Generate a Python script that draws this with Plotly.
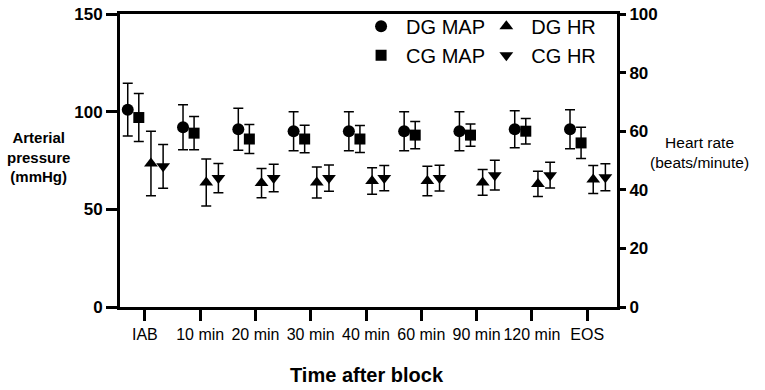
import plotly.graph_objects as go

categories = ["IAB", "10 min", "20 min", "30 min", "40 min", "60 min", "90 min", "120 min", "EOS"]
dg_map = [101, 92, 91, 90, 90, 90, 90, 91, 91]
dg_map_sd = [13.5, 11.5, 10.7, 10, 10, 10, 10, 9.5, 10]
cg_map = [97, 89, 86, 86, 86, 88, 88, 90, 84]
cg_map_sd = [12.3, 8.5, 7.4, 7, 6.9, 7, 5.7, 6.5, 8]
dg_hr = [49, 42.5, 42.3, 42.5, 43, 43, 42.5, 42, 43.5]
dg_hr_sd = [11, 8, 5, 5.3, 4.5, 5, 4.4, 4.3, 4.8]
cg_hr = [48, 44, 44, 44, 44, 44, 45, 45, 44.3]
cg_hr_sd = [7.5, 5, 4.7, 4.5, 4.3, 4.4, 5.1, 4.4, 4.6]

idx = list(range(len(categories)))
FONT = "Liberation Sans, Arial, sans-serif"

series = [
    ("DG MAP", dg_map, dg_map_sd, "circle", 12, -0.31, "y", "legend"),
    ("CG MAP", cg_map, cg_map_sd, "square", 11, -0.11, "y", "legend"),
    ("DG HR", dg_hr, dg_hr_sd, "triangle-up", 12, 0.11, "y2", "legend2"),
    ("CG HR", cg_hr, cg_hr_sd, "triangle-down", 12, 0.33, "y2", "legend2"),
]

fig = go.Figure()
for name, vals, sd, sym, size, off, yax, leg in series:
    fig.add_trace(go.Scatter(
        x=[i + off for i in idx], y=vals, mode="markers", name=name,
        yaxis=yax, showlegend=False, cliponaxis=False,
        marker=dict(symbol=sym, size=size, color="black"),
        error_y=dict(type="data", array=sd, visible=True, color="black",
                     thickness=1.5, width=5),
    ))
    fig.add_trace(go.Scatter(
        x=[None], y=[None], mode="markers", name=name, yaxis=yax,
        legend=leg, showlegend=True,
        marker=dict(symbol=sym, size=size, color="black"),
    ))

fig.update_layout(
    width=765, height=390,
    margin=dict(l=120, r=148, t=14, b=83, autoexpand=False),
    paper_bgcolor="white", plot_bgcolor="white",
    font=dict(family=FONT, color="black"),
    xaxis=dict(range=[-0.45, 8.54], tickmode="array", tickvals=idx, ticktext=categories,
               showline=True, linewidth=3, linecolor="black", mirror=True,
               ticks="outside", ticklen=11, tickwidth=3, tickcolor="black",
               showgrid=False, zeroline=False, tickfont=dict(size=16), automargin=False),
    yaxis=dict(range=[0, 150], dtick=50, showline=True, linewidth=3, linecolor="black",
               ticks="outside", ticklen=11, tickwidth=3, tickcolor="black",
               showgrid=False, zeroline=False, tickfont=dict(size=17, weight="bold"),
               automargin=False, ticklabeloverflow="allow"),
    yaxis2=dict(range=[0, 100], dtick=20, overlaying="y", side="right",
                showline=True, linewidth=3, linecolor="black",
                ticks="outside", ticklen=6, tickwidth=3, tickcolor="black",
                showgrid=False, zeroline=False, tickfont=dict(size=17, weight="bold"),
                automargin=False, ticklabeloverflow="allow"),
    legend=dict(x=0.475, y=1.025, xanchor="left", yanchor="top", bgcolor="rgba(0,0,0,0)",
                font=dict(size=20), itemwidth=40),
    legend2=dict(x=0.727, y=1.025, xanchor="left", yanchor="top", bgcolor="rgba(0,0,0,0)",
                 font=dict(size=20), itemwidth=40),
    annotations=[
        dict(text="Arterial<br>pressure<br>(mmHg)", xref="paper", yref="paper",
             x=-0.164, y=0.512, xanchor="center", yanchor="middle",
             showarrow=False, align="center",
             font=dict(size=15, weight="bold")),
        dict(text="Heart rate<br>(beats/minute)", xref="paper", yref="paper",
             x=1.167, y=0.526, xanchor="center", yanchor="middle",
             showarrow=False, align="center",
             font=dict(size=15.5)),
        dict(text="Time after block", xref="paper", yref="paper",
             x=0.497, y=-0.232, xanchor="center", yanchor="middle", showarrow=False,
             font=dict(size=20, weight="bold")),
    ],
)

fig.write_html("out.html", config={"displayModeBar": False},
               post_script="document.body.style.margin='0';")
